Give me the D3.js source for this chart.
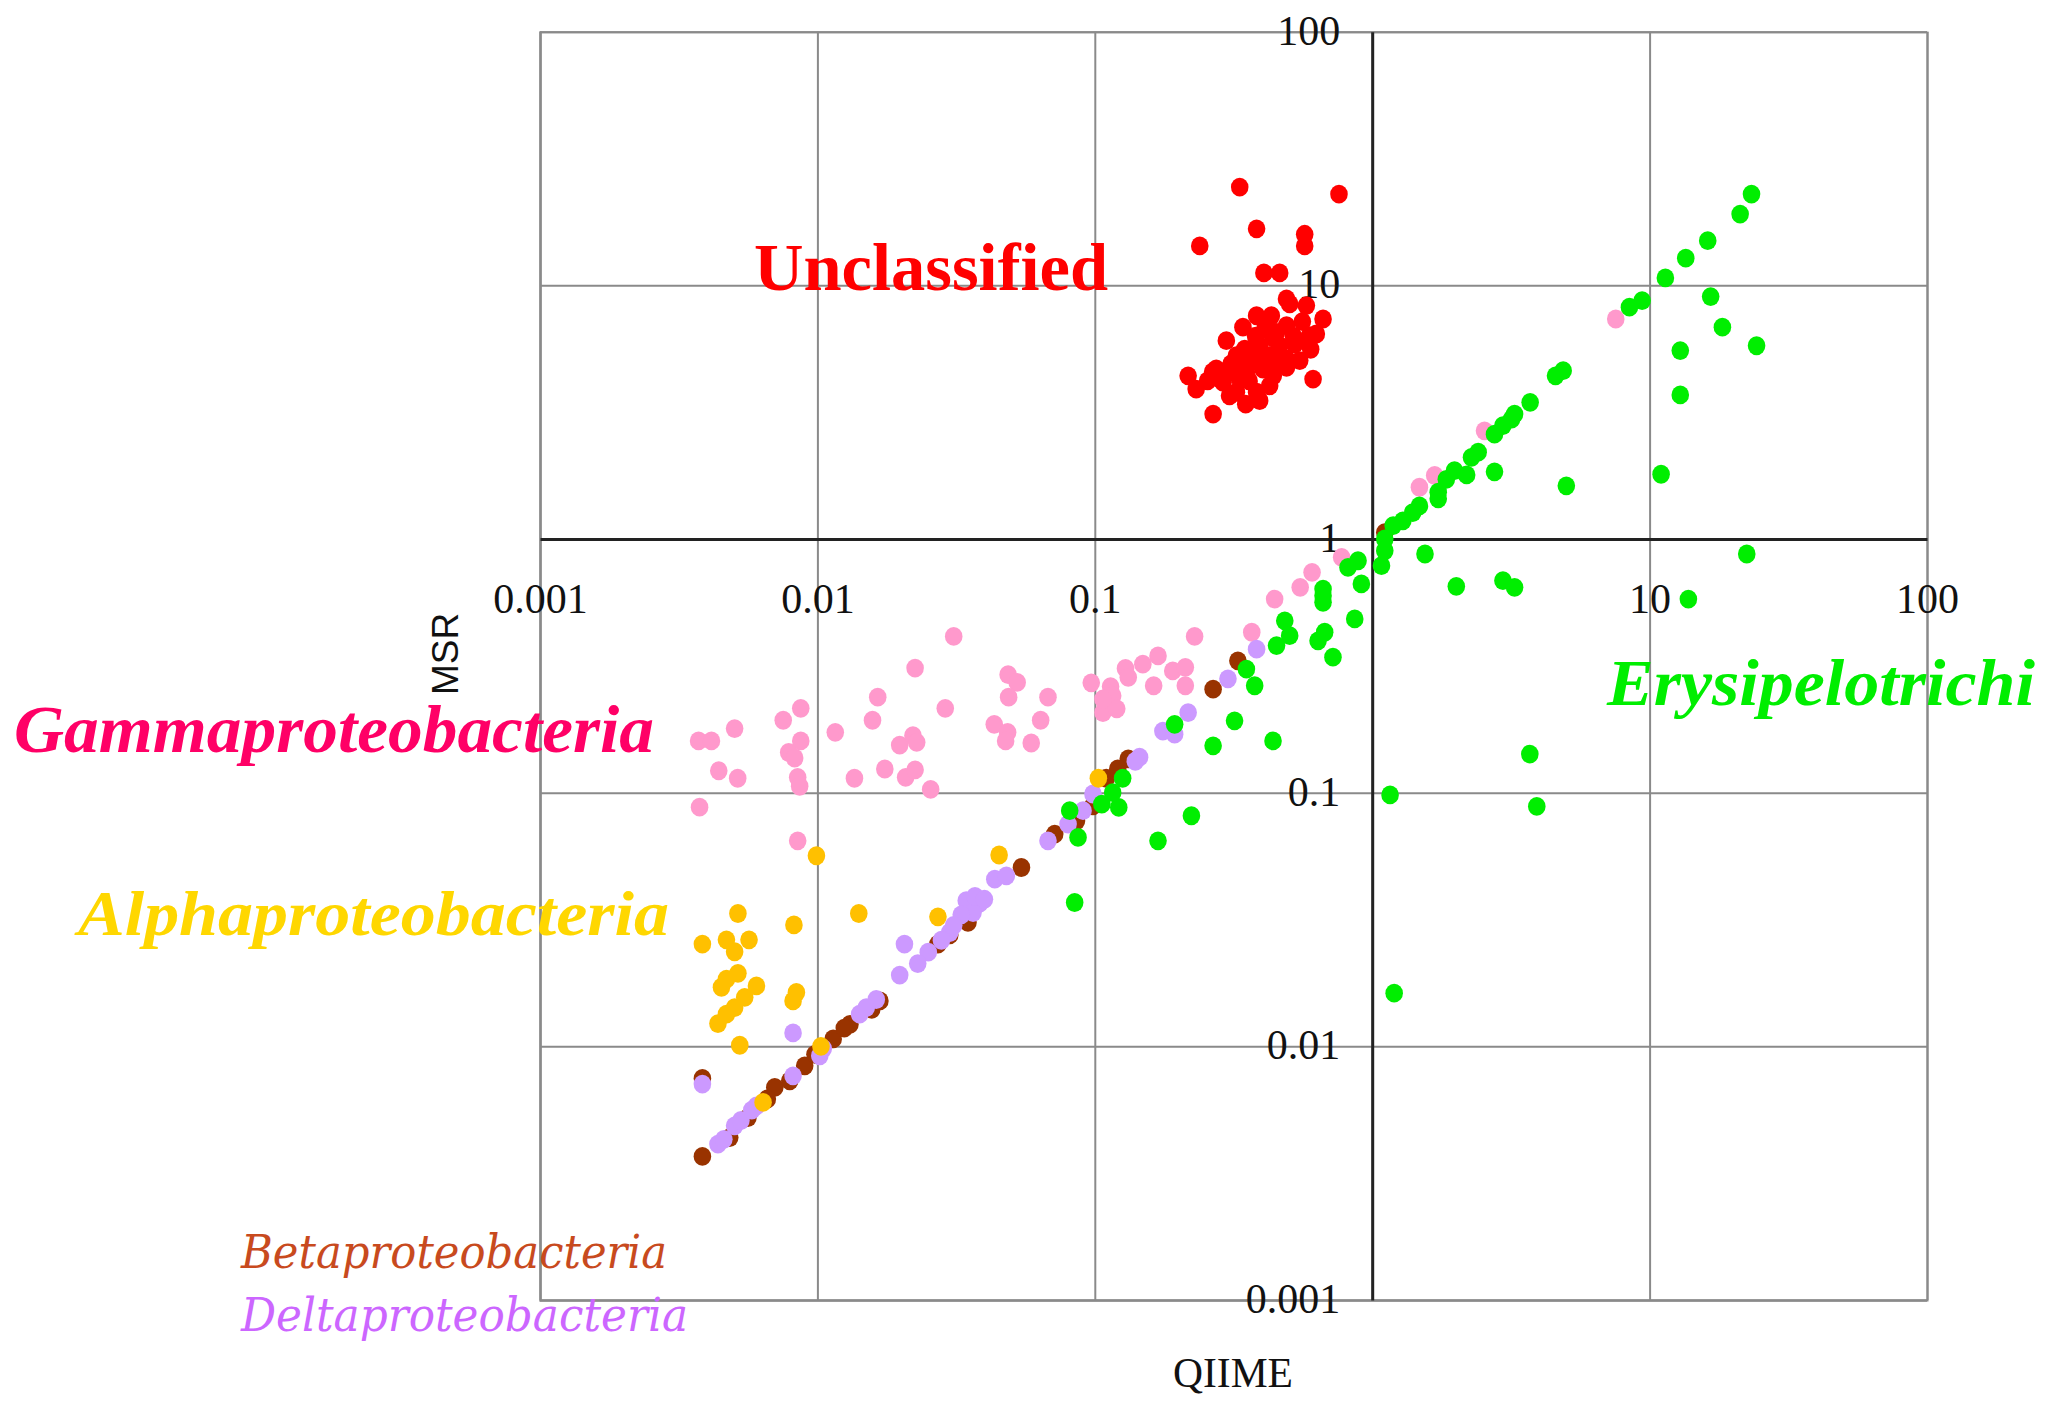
<!DOCTYPE html>
<html>
<head>
<meta charset="utf-8">
<script src="https://cdn.jsdelivr.net/npm/d3@7"></script>
<style>
  html, body { margin: 0; padding: 0; background: #fff; }
  svg { display: block; }
</style>
</head>
<body>
<svg id="chart" width="2049" height="1405"></svg>
<script>
// Decade grid values shared by both log axes
const decades = [0.001, 0.01, 0.1, 1, 10, 100];
const xTickValues = [0.001, 0.01, 0.1, 10, 100];
const xTickLabels = ["0.001", "0.01", "0.1", "10", "100"];
const yTickValues = [0.001, 0.01, 0.1, 1, 10, 100];
const yTickLabels = ["0.001", "0.01", "0.1", "1", "10", "100"];

// Relative abundance pairs per class: [QIIME, MSR]
const gammaproteobacteria = [
  [0.00373, 0.160], [0.00415, 0.160], [0.00503, 0.179], [0.00441, 0.122], [0.00516, 0.114],
  [0.00376, 0.0877], [0.00871, 0.215], [0.00753, 0.193], [0.00871, 0.160], [0.00788, 0.144],
  [0.00828, 0.137], [0.00849, 0.115], [0.00863, 0.106], [0.00849, 0.0646], [0.0116, 0.173],
  [0.0158, 0.193], [0.0165, 0.238], [0.0136, 0.114], [0.0175, 0.124], [0.0225, 0.310],
  [0.0310, 0.413], [0.0289, 0.215], [0.0198, 0.154], [0.0221, 0.168], [0.0228, 0.158],
  [0.0208, 0.115], [0.0225, 0.123], [0.0256, 0.103], [0.0487, 0.292], [0.0525, 0.272],
  [0.0489, 0.238], [0.0678, 0.238], [0.0434, 0.186], [0.0485, 0.173], [0.0477, 0.160],
  [0.0638, 0.193], [0.0590, 0.157], [0.0971, 0.271], [0.114, 0.262], [0.116, 0.241],
  [0.107, 0.207], [0.120, 0.214], [0.129, 0.309], [0.132, 0.285], [0.149, 0.321],
  [0.169, 0.346], [0.191, 0.302], [0.212, 0.312], [0.163, 0.264], [0.212, 0.264],
  [0.229, 0.413], [0.368, 0.429], [0.445, 0.580], [0.550, 0.645], [0.607, 0.739],
  [0.776, 0.847], [1.48, 1.60], [1.68, 1.78], [2.54, 2.67], [7.55, 7.37], [0.107, 0.234]
];

const unclassified = [
  [0.333, 24.4], [0.759, 22.9], [0.383, 16.7], [0.571, 15.9], [0.571, 14.3],
  [0.239, 14.3], [0.407, 11.2], [0.464, 11.2], [0.491, 8.84], [0.579, 8.32],
  [0.665, 7.37], [0.383, 7.59], [0.433, 7.59], [0.342, 6.84], [0.491, 6.94],
  [0.629, 6.43], [0.595, 6.15], [0.298, 6.05], [0.393, 5.78], [0.464, 5.78],
  [0.324, 5.28], [0.372, 5.13], [0.427, 5.28], [0.491, 5.13], [0.548, 5.05],
  [0.274, 4.68], [0.306, 4.54], [0.352, 4.54], [0.404, 4.68], [0.491, 4.75],
  [0.217, 4.40], [0.612, 4.27], [0.232, 3.90], [0.290, 4.15], [0.324, 3.79],
  [0.383, 3.79], [0.306, 3.67], [0.393, 3.51], [0.267, 3.11], [0.333, 4.27],
  [0.427, 4.02], [0.362, 4.97], [0.452, 6.53], [0.266, 4.56], [0.595, 6.34],
  [0.504, 8.45], [0.410, 6.73], [0.526, 5.87], [0.347, 5.61], [0.280, 4.30],
  [0.360, 4.20], [0.440, 4.40], [0.460, 5.00], [0.400, 5.40], [0.340, 5.00],
  [0.520, 6.30], [0.560, 7.20], [0.440, 6.20], [0.310, 4.90], [0.380, 6.30],
  [0.600, 5.60], [0.255, 4.20], [0.350, 3.40], [0.420, 4.90]
];

const betaproteobacteria = [
  [0.00385, 0.00368], [0.00385, 0.00747], [0.00483, 0.00437], [0.00562, 0.00524],
  [0.00702, 0.00689], [0.00795, 0.00731], [0.00900, 0.00838], [0.0114, 0.0107],
  [0.0131, 0.0122], [0.0157, 0.0140], [0.0168, 0.0151], [0.0272, 0.0253],
  [0.0349, 0.0308], [0.0544, 0.0507], [0.0717, 0.0687], [0.0859, 0.0775],
  [0.0985, 0.0888], [0.132, 0.136], [0.110, 0.114], [0.267, 0.256],
  [0.328, 0.331], [1.11, 1.06], [0.00660, 0.00620], [0.00980, 0.00930],
  [0.0125, 0.0118], [0.0300, 0.0275], [0.121, 0.124]
];

const deltaproteobacteria = [
  [0.00385, 0.00710], [0.00438, 0.00412], [0.00503, 0.00486], [0.00603, 0.00583],
  [0.00817, 0.00765], [0.0102, 0.00918], [0.00817, 0.0113], [0.0142, 0.0134],
  [0.0163, 0.0153], [0.0198, 0.0191], [0.0206, 0.0253], [0.0251, 0.0235],
  [0.0300, 0.0281], [0.0344, 0.0375], [0.0385, 0.0367], [0.0364, 0.0337],
  [0.0436, 0.0456], [0.0480, 0.0470], [0.0678, 0.0646], [0.0801, 0.0752],
  [0.0907, 0.0849], [0.0985, 0.0988], [0.145, 0.138], [0.217, 0.207],
  [0.176, 0.175], [0.383, 0.368], [0.302, 0.281], [0.194, 0.170],
  [0.00460, 0.00430], [0.00530, 0.00510], [0.00580, 0.00560], [0.0330, 0.0330],
  [0.0370, 0.0390], [0.0400, 0.0380], [0.0310, 0.0300], [0.0280, 0.0262],
  [0.0230, 0.0212], [0.0105, 0.00980], [0.0150, 0.0142], [0.140, 0.133]
];

const alphaproteobacteria = [
  [0.00992, 0.0564], [0.00517, 0.0334], [0.00385, 0.0253], [0.00470, 0.0263],
  [0.00503, 0.0236], [0.00567, 0.0263], [0.00823, 0.0301], [0.0141, 0.0334],
  [0.00517, 0.0194], [0.00470, 0.0184], [0.00451, 0.0171], [0.00603, 0.0173],
  [0.00547, 0.0156], [0.00503, 0.0142], [0.00470, 0.0134], [0.00438, 0.0123],
  [0.00840, 0.0163], [0.00817, 0.0151], [0.00525, 0.0101], [0.0103, 0.00999],
  [0.00637, 0.00601], [0.0272, 0.0324], [0.0452, 0.0568], [0.103, 0.114]
];

const erysipelotrichi = [
  [23.3, 22.9], [21.2, 19.1], [16.2, 15.0], [13.5, 12.8], [11.4, 10.7],
  [9.40, 8.71], [8.46, 8.20], [16.6, 9.03], [18.3, 6.84], [24.3, 5.78],
  [12.9, 5.53], [12.9, 3.70], [4.88, 4.61], [4.58, 4.40], [3.71, 3.46],
  [3.26, 3.11], [11.0, 1.80], [5.01, 1.62], [3.18, 2.97], [2.96, 2.80],
  [2.76, 2.59], [2.41, 2.20], [2.28, 2.10], [2.76, 1.84], [2.19, 1.79],
  [1.98, 1.86], [1.85, 1.72], [1.73, 1.53], [1.73, 1.44], [1.48, 1.35],
  [1.40, 1.27], [1.29, 1.18], [1.19, 1.13], [1.11, 1.00], [1.11, 0.899],
  [1.08, 0.785], [1.55, 0.873], [2.01, 0.651], [2.96, 0.685], [3.26, 0.645],
  [13.8, 0.580], [0.889, 0.821], [0.818, 0.773], [0.914, 0.665], [0.665, 0.635],
  [0.665, 0.598], [0.665, 0.563], [0.865, 0.484], [0.484, 0.476], [0.504, 0.416],
  [0.452, 0.380], [0.674, 0.429], [0.638, 0.397], [0.722, 0.342], [0.352, 0.307],
  [0.377, 0.264], [0.319, 0.192], [0.267, 0.153], [0.439, 0.160], [3.70, 0.142],
  [1.16, 0.098], [22.4, 0.873], [3.92, 0.0883], [1.20, 0.0162], [0.194, 0.186],
  [0.126, 0.114], [0.116, 0.100], [0.106, 0.0902], [0.122, 0.0875], [0.0812, 0.0849],
  [0.0870, 0.0666], [0.169, 0.0646], [0.223, 0.0811], [0.0846, 0.0369]
];

// Drawing order: later series sit on top
const seriesList = [
  { name: "Gammaproteobacteria", points: gammaproteobacteria, color: "#ff99cc" },
  { name: "Unclassified", points: unclassified, color: "#ff0000" },
  { name: "Betaproteobacteria", points: betaproteobacteria, color: "#993300" },
  { name: "Deltaproteobacteria", points: deltaproteobacteria, color: "#cc99ff" },
  { name: "Alphaproteobacteria", points: alphaproteobacteria, color: "#ffc000" },
  { name: "Erysipelotrichi", points: erysipelotrichi, color: "#00ee00" }
];

const svg = d3.select("#chart");
svg.append("rect").attr("width", 2049).attr("height", 1405).attr("fill", "#fff");

const x = d3.scaleLog().domain([0.001, 100]).range([540, 1927]);
const y = d3.scaleLog().domain([0.001, 100]).range([1300, 31.7]);
const plotW = x(100) - x(0.001);
const plotH = y(0.001) - y(100);

// Decade gridlines (including the outer frame)
svg.append("g")
  .attr("transform", `translate(0,${y(0.001)})`)
  .call(d3.axisBottom(x).tickValues(decades).tickSize(-plotH).tickFormat(""))
  .call(g => g.select(".domain").attr("stroke", "#8a8a8a").attr("stroke-width", 2))
  .call(g => g.selectAll(".tick line").attr("stroke", "#8a8a8a").attr("stroke-width", 2));

svg.append("g")
  .attr("transform", `translate(${x(0.001)},0)`)
  .call(d3.axisLeft(y).tickValues(decades).tickSize(-plotW).tickFormat(""))
  .call(g => g.select(".domain").attr("stroke", "#8a8a8a").attr("stroke-width", 2))
  .call(g => g.selectAll(".tick line").attr("stroke", "#8a8a8a").attr("stroke-width", 2));

// Axes crossing at (1, 1)
const xAxis = svg.append("g")
  .attr("transform", `translate(0,${y(1)})`)
  .call(d3.axisBottom(x).tickValues(xTickValues).tickSize(0)
    .tickFormat((d, i) => xTickLabels[i]));
xAxis.select(".domain").attr("stroke", "#222").attr("stroke-width", 3);
xAxis.selectAll("text")
  .attr("y", 74).attr("dy", null)
  .attr("font-family", "'Liberation Serif', 'Times New Roman', serif")
  .attr("font-size", 42).attr("fill", "#111");

const yAxis = svg.append("g")
  .attr("transform", `translate(${x(1)},0)`)
  .call(d3.axisLeft(y).tickValues(yTickValues).tickSize(0)
    .tickFormat((d, i) => yTickLabels[i]));
yAxis.select(".domain").attr("stroke", "#222").attr("stroke-width", 3);
yAxis.selectAll("text")
  .attr("x", -32).attr("dy", "0.3em")
  .attr("font-family", "'Liberation Serif', 'Times New Roman', serif")
  .attr("font-size", 42).attr("fill", "#111");

// Points
const marks = svg.append("g");
seriesList.forEach(s => {
  marks.append("g")
    .selectAll("ellipse")
    .data(s.points)
    .join("ellipse")
    .attr("cx", d => x(d[0]))
    .attr("cy", d => y(d[1]))
    .attr("rx", 8.8)
    .attr("ry", 9.4)
    .attr("fill", s.color);
});

// Class labels
const labels = [
  { text: "Unclassified", x: 754, y: 290, len: 354, size: 68, weight: "bold", style: "normal",
    family: "'Liberation Serif', serif", color: "#ff0000" },
  { text: "Gammaproteobacteria", x: 14, y: 752, len: 640, size: 68, weight: "bold", style: "italic",
    family: "'Liberation Serif', serif", color: "#ff0066" },
  { text: "Alphaproteobacteria", x: 78, y: 935, len: 591, size: 64, weight: "bold", style: "italic",
    family: "'Liberation Serif', serif", color: "#ffd700" },
  { text: "Erysipelotrichi", x: 1607, y: 705, len: 428, size: 65, weight: "bold", style: "italic",
    family: "'Liberation Serif', serif", color: "#00ee00" },
  { text: "Betaproteobacteria", x: 241, y: 1268, len: 426, size: 46, weight: "normal", style: "italic",
    family: "'DejaVu Serif', serif", color: "#c84a1e" },
  { text: "Deltaproteobacteria", x: 241, y: 1331, len: 447, size: 46, weight: "normal", style: "italic",
    family: "'DejaVu Serif', serif", color: "#cc66ff" }
];
svg.append("g").selectAll("text")
  .data(labels)
  .join("text")
  .attr("x", d => d.x).attr("y", d => d.y)
  .attr("font-family", d => d.family)
  .attr("font-size", d => d.size)
  .attr("font-weight", d => d.weight)
  .attr("font-style", d => d.style)
  .attr("fill", d => d.color)
  .attr("textLength", d => d.len)
  .attr("lengthAdjust", "spacingAndGlyphs")
  .text(d => d.text);

// Axis titles
svg.append("text")
  .attr("x", 1173).attr("y", 1387)
  .attr("font-family", "'Liberation Serif', serif")
  .attr("font-size", 42).attr("fill", "#111")
  .attr("textLength", 120).attr("lengthAdjust", "spacingAndGlyphs")
  .text("QIIME");

svg.append("text")
  .attr("transform", "translate(458,654) rotate(-90)")
  .attr("text-anchor", "middle")
  .attr("font-family", "'Liberation Sans', Arial, sans-serif")
  .attr("font-size", 37).attr("fill", "#111")
  .text("MSR");
</script>
</body>
</html>
